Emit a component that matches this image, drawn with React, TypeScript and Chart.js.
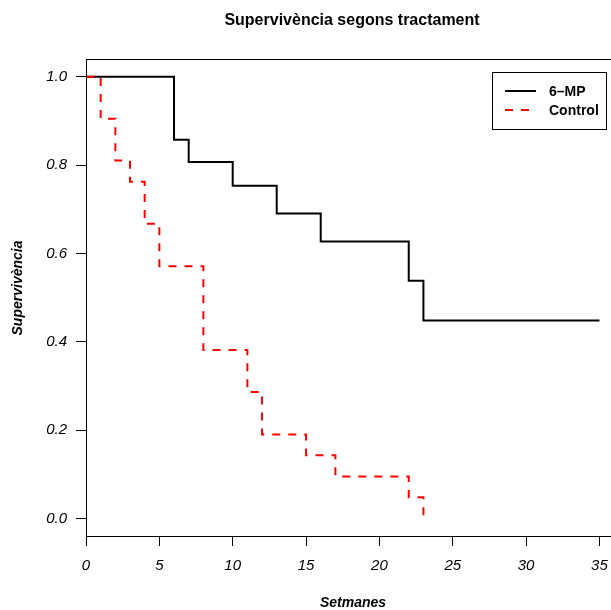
import React, { useEffect, useRef } from "react";
import { Chart, registerables } from "chart.js";

Chart.register(...registerables);

const TITLE = "Supervivència segons tractament";
const X_LABEL = "Setmanes";
const Y_LABEL = "Supervivència";

const MP_TIMES = [0, 6, 7, 10, 13, 16, 22, 23, 35];
const MP_SURV = [1.0, 0.857, 0.807, 0.753, 0.69, 0.627, 0.538, 0.448, 0.448];

const CTRL_TIMES = [0, 1, 2, 3, 4, 5, 8, 11, 12, 15, 17, 22, 23];
const CTRL_SURV = [1.0, 0.905, 0.81, 0.762, 0.667, 0.571, 0.381, 0.286, 0.19, 0.143, 0.095, 0.048, 0.0];

const X_TICKS = [0, 5, 10, 15, 20, 25, 30, 35];
const Y_TICKS = [0.0, 0.2, 0.4, 0.6, 0.8, 1.0];

const SERIES_NAMES = ["6\u2013MP", "Control"];

const FONT = "'Liberation Sans', Arial, Helvetica, sans-serif";

export default function App() {
  const ref = useRef<HTMLCanvasElement | null>(null);

  useEffect(() => {
    const canvas = ref.current;
    if (!canvas) return;

    const decor = {
      id: "decor",
      afterDraw(chart: any) {
        const ctx = chart.ctx;
        const a = chart.chartArea;
        ctx.save();
        // box
        ctx.strokeStyle = "#000";
        ctx.lineWidth = 1;
        ctx.strokeRect(a.left + 0.5, a.top + 0.5, a.right - a.left, a.bottom - a.top);
        // title
        ctx.fillStyle = "#000";
        ctx.textAlign = "center";
        ctx.textBaseline = "middle";
        ctx.font = `bold 16px ${FONT}`;
        ctx.fillText(TITLE, 352, 21);
        // x label
        ctx.font = `italic bold 14px ${FONT}`;
        ctx.fillText(X_LABEL, 353, 603);
        // y label
        ctx.save();
        ctx.translate(18, 288);
        ctx.rotate(-Math.PI / 2);
        ctx.fillText(Y_LABEL, 0, 0);
        ctx.restore();
        // legend
        ctx.fillStyle = "#fff";
        ctx.fillRect(492, 72, 114, 57);
        ctx.strokeStyle = "#000";
        ctx.lineWidth = 1;
        ctx.strokeRect(492.5, 72.5, 114, 57);
        const rows = [
          { y: 91, color: "#000", dash: [] as number[] },
          { y: 110, color: "#ff0000", dash: [8, 8] },
        ];
        rows.forEach((r, i) => {
          ctx.strokeStyle = r.color;
          ctx.lineWidth = 2;
          ctx.setLineDash(r.dash);
          ctx.beginPath();
          ctx.moveTo(505, r.y);
          ctx.lineTo(536, r.y);
          ctx.stroke();
          ctx.setLineDash([]);
          ctx.fillStyle = "#000";
          ctx.textAlign = "left";
          ctx.font = `bold 14px ${FONT}`;
          ctx.fillText(SERIES_NAMES[i], 549, r.y + 1);
        });
        ctx.restore();
      },
    };

    const chart = new Chart(canvas, {
      type: "line",
      data: {
        datasets: [
          {
            label: SERIES_NAMES[1],
            data: CTRL_TIMES.map((t, i) => ({ x: t, y: CTRL_SURV[i] })),
            borderColor: "#ff0000",
            borderWidth: 2,
            borderDash: [8, 8],
            stepped: "before",
            pointRadius: 0,
            fill: false,
          },
          {
            label: SERIES_NAMES[0],
            data: MP_TIMES.map((t, i) => ({ x: t, y: MP_SURV[i] })),
            borderColor: "#000",
            borderWidth: 2,
            stepped: "before",
            pointRadius: 0,
            fill: false,
          },
        ],
      },
      options: {
        responsive: false,
        animation: false,
        devicePixelRatio: 1,
        layout: { padding: { left: 0, top: 59, right: 10, bottom: 0 } },
        plugins: {
          legend: { display: false },
          title: { display: false },
          tooltip: { enabled: false },
        },
        scales: {
          x: {
            type: "linear",
            min: 0,
            max: 36.4,
            afterBuildTicks: (s: any) => {
              s.ticks = X_TICKS.map((v) => ({ value: v }));
            },
            afterFit: (s: any) => {
              s.height = 74;
            },
            ticks: {
              color: "#000",
              padding: 11,
              maxRotation: 0,
              autoSkip: false,
              font: { family: FONT, size: 15, style: "italic" },
              callback: (v: any) => String(v),
            },
            grid: {
              display: true,
              drawOnChartArea: false,
              drawTicks: true,
              tickLength: 10,
              color: "#000",
            },
            border: { display: true, color: "#000", width: 1 },
          },
          y: {
            type: "linear",
            min: -0.04,
            max: 1.04,
            afterBuildTicks: (s: any) => {
              s.ticks = Y_TICKS.map((v) => ({ value: v }));
            },
            afterFit: (s: any) => {
              s.width = 86;
            },
            ticks: {
              color: "#000",
              padding: 9,
              autoSkip: false,
              font: { family: FONT, size: 15, style: "italic" },
              callback: (v: any) => Number(v).toFixed(1),
            },
            grid: {
              display: true,
              drawOnChartArea: false,
              drawTicks: true,
              tickLength: 10,
              color: "#000",
            },
            border: { display: true, color: "#000", width: 1 },
          },
        },
      },
      plugins: [decor],
    } as any);

    return () => chart.destroy();
  }, []);

  return (
    <canvas
      ref={ref}
      width={630}
      height={610}
      style={{ position: "fixed", left: 0, top: 0, width: 630, height: 610 }}
    />
  );
}
